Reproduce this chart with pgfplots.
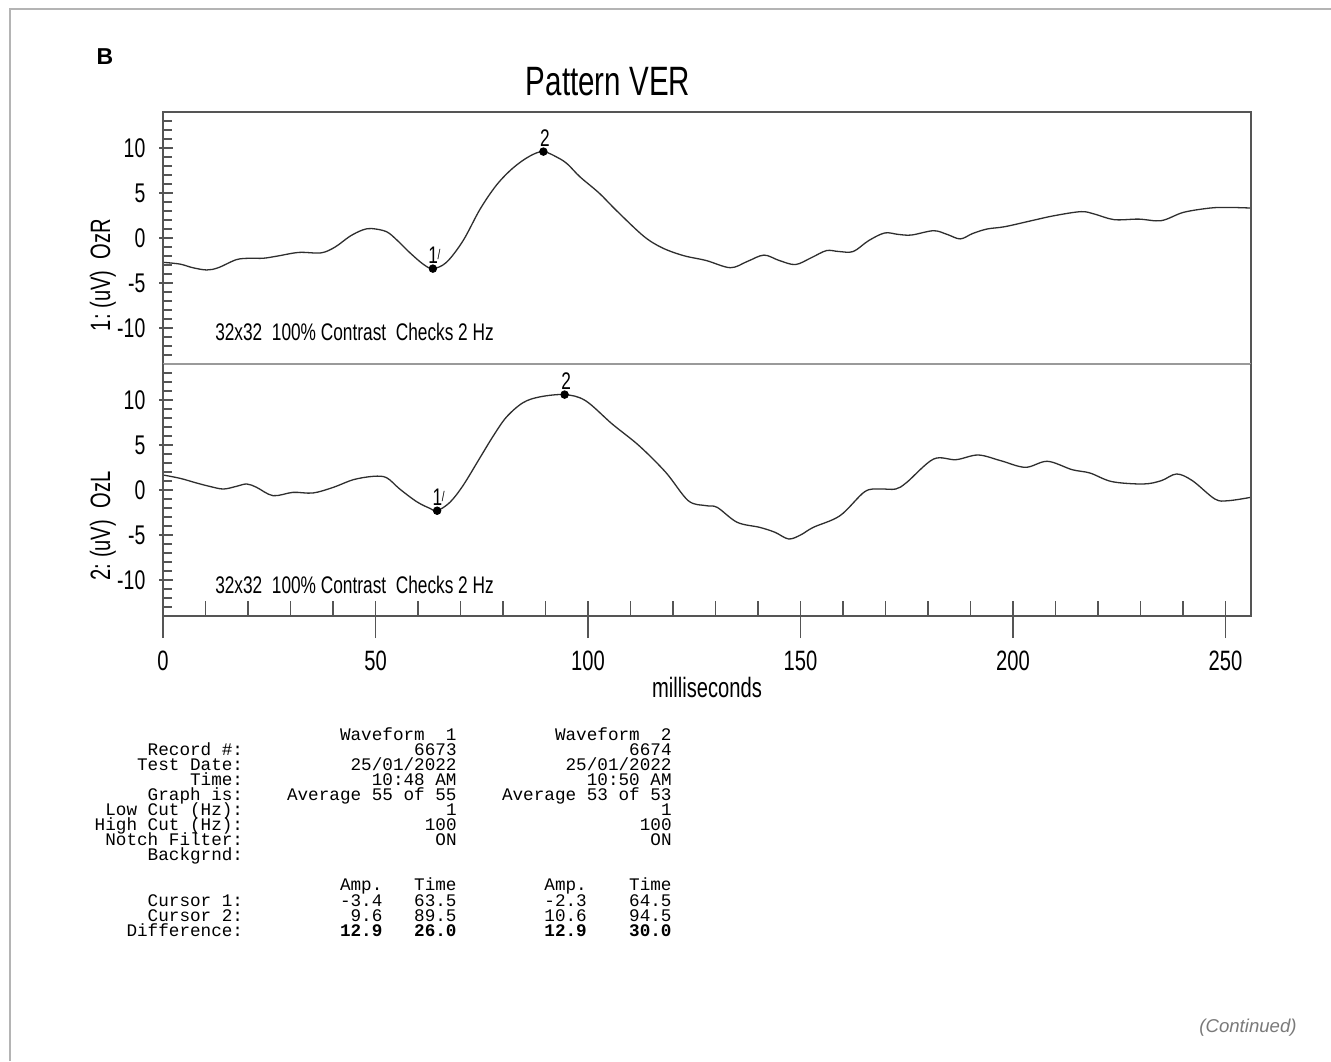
\documentclass[border=0pt]{standalone}
\usepackage{pgfplots}
\pgfplotsset{compat=1.18}
\usepackage{fontspec}
\setmainfont{Liberation Sans}
\newfontfamily\narrowsf[FakeStretch=0.72]{Liberation Sans}
\newfontfamily\tablefont{Liberation Mono}
\definecolor{framegray}{HTML}{555555}
\definecolor{sepgray}{HTML}{9A9A9A}
\definecolor{outergray}{HTML}{B4B4B4}
\definecolor{curvecol}{HTML}{2E2E2E}
\definecolor{contgray}{HTML}{7A7A7A}
\newcommand{\tf}{\tablefont\fontsize{8.83}{10}\selectfont}
\newcommand{\trow}[4]{%
  \node[anchor=base east, inner sep=0] at (121.75pt,#1) {\tf #2};
  \node[anchor=base east, inner sep=0] at (228.5pt,#1) {\tf #3};
  \node[anchor=base east, inner sep=0] at (336pt,#1) {\tf #4};}
\pgfplotsset{
  panel/.style={
    at={(81.5pt,#1)}, anchor=south west, scale only axis,
    width=544pt, height=126pt,
    xmin=0, xmax=256, ymin=-14, ymax=14,
    axis line style={draw=none}, clip=false,
    xtick=\empty,
    ytick={-10,-5,0,5,10},
    minor ytick={-13,-12,-11,-9,-8,-7,-6,-4,-3,-2,-1,1,2,3,4,6,7,8,9,11,12,13},
    ytick pos=left, tick align=center,
    major tick length=7pt, minor tick length=4.5pt,
    major tick style={xshift=1.5pt, draw=framegray, line width=0.6pt},
    minor tick style={xshift=2.25pt, draw=framegray, line width=0.6pt},
    tick label style={font=\narrowsf\fontsize{13.5}{13.5}\selectfont},
    yticklabel style={xshift=-1.8pt},
    /pgf/number format/assume math mode=true,
  },
  wave/.style={curvecol, line width=0.65pt, smooth, tension=0.55, mark=none},
  cursor/.style={only marks, mark=*, mark size=1.9pt, black},
}
\tikzset{curlab/.style={anchor=south, inner sep=0, yshift=2.2pt, xshift=0.8pt, font=\narrowsf\fontsize{12}{12}\selectfont}}
\newcommand{\one}{1\kern-0.2pt\raisebox{2.2pt}{\fontsize{7}{7}\selectfont /}}
\begin{document}
\begin{tikzpicture}
\fill[white] (0,0) rectangle (665.5pt,-530.5pt);
\draw[outergray, line width=0.8pt] (5pt,-530.5pt) -- (5pt,-4.5pt) -- (665.5pt,-4.5pt);
\node[font=\bfseries\fontsize{11.5}{11.5}\selectfont] at (52.5pt,-28.5pt) {B};
\node[anchor=base, inner sep=0, font=\narrowsf\fontsize{20.5}{20.5}\selectfont] at (304pt,-47.5pt) {Pattern VER};

% ---------- top panel ----------
\begin{axis}[panel=-182pt]
\addplot[wave] coordinates {
(0,-2.7) (4,-2.9) (7,-3.3) (10.3,-3.55) (13,-3.3) (17.3,-2.4) (20.5,-2.25) (23.6,-2.25)
(27,-2.0) (32,-1.6) (37.2,-1.65) (40.5,-1.0) (44,0.2) (47,0.9) (49.1,1.05) (52.6,0.7)
(55.2,-0.3) (58,-1.6) (61.2,-2.9) (63.5,-3.4) (66.7,-2.7) (70.6,-0.3) (74.6,3.2)
(78.5,5.9) (82.4,7.8) (86.3,9.1) (89.5,9.6) (93,8.9) (95.2,8.2) (98.1,6.8)
(102.6,5.0) (106.8,3.0) (113.1,0.2) (117.5,-1.1) (122.5,-1.96) (127.8,-2.5)
(133.5,-3.3) (137.5,-2.6) (141.4,-1.9) (145,-2.5) (148.8,-2.95) (152.5,-2.2)
(156.1,-1.4) (159,-1.5) (162.4,-1.5) (166,-0.3) (169.8,0.56) (173,0.4) (176.1,0.33)
(181.3,0.81) (184.5,0.4) (187.6,-0.1) (190.5,0.5) (193.9,1.0) (198.1,1.26)
(204.4,1.93) (209.7,2.48) (216.0,2.93) (219.1,2.67) (223.8,2.04) (229.6,2.1)
(234.9,1.93) (240.1,2.85) (246.4,3.33) (250.6,3.4) (256,3.33)
};
\addplot[cursor] coordinates {(63.5,-3.4) (89.5,9.6)};
\node[curlab] at (axis cs:63.5,-3.4) {\one};
\node[curlab] at (axis cs:89.5,9.6) {2};
\node[anchor=west, inner sep=0, font=\narrowsf\fontsize{12}{12}\selectfont] at (axis cs:12.2,-10.4) {32x32~~100\%~Contrast~~Checks~2~Hz};
\draw[framegray, line width=0.75pt] (rel axis cs:0,0) -- (rel axis cs:0,1) -- (rel axis cs:1,1) -- (rel axis cs:1,0);
\end{axis}

% ---------- bottom panel ----------
\begin{axis}[panel=-308pt]
\addplot[wave] coordinates {
(0,1.67) (4,1.3) (7.9,0.78) (11,0.4) (14.2,0.11) (17.3,0.41) (19.7,0.67) (22.0,0.3)
(25.9,-0.63) (30.6,-0.26) (35.3,-0.33) (40.1,0.3) (44.8,1.15) (49.5,1.52) (52.6,1.37)
(55.7,0.11) (59.7,-1.3) (62.8,-2.04) (64.5,-2.3) (67.5,-1.37) (70.6,0.5) (74.6,3.6)
(77.7,6.0) (80.8,8.1) (84.7,9.7) (88.7,10.35) (94.5,10.6) (99.4,9.93) (105.7,7.33)
(112.0,4.93) (118.3,1.96) (123.6,-1.19) (127.8,-1.74) (130.4,-1.93) (135.1,-3.59)
(140.4,-4.15) (144,-4.7) (147.2,-5.44) (150,-5.0) (153.0,-4.15) (159.3,-2.85)
(165.1,-0.19) (168.7,0.11) (172.4,0.11) (175.0,0.85) (181.3,3.44) (186.6,3.37)
(191.8,3.89) (197.1,3.26) (202.9,2.52) (208.1,3.19) (213.9,2.26) (218.1,1.89)
(223.3,0.93) (230.7,0.67) (234.9,1.04) (238.5,1.78) (242.2,1.04) (247.5,-1.0)
(250.6,-1.19) (256,-0.81)
};
\addplot[cursor] coordinates {(64.5,-2.3) (94.5,10.6)};
\node[curlab] at (axis cs:64.5,-2.3) {\one};
\node[curlab] at (axis cs:94.5,10.6) {2};
\node[anchor=west, inner sep=0, font=\narrowsf\fontsize{12}{12}\selectfont] at (axis cs:12.2,-10.6) {32x32~~100\%~Contrast~~Checks~2~Hz};
\draw[sepgray, line width=0.6pt] (rel axis cs:0,1) -- (rel axis cs:1,1);
\draw[framegray, line width=0.75pt] (rel axis cs:0,1) -- (rel axis cs:0,0) -- (rel axis cs:1,0) -- (rel axis cs:1,1);
\end{axis}

% ---------- x ticks of bottom panel ----------
\begin{axis}[
    at={(81.5pt,-308pt)}, anchor=south west, scale only axis,
    width=544pt, height=126pt,
    xmin=0, xmax=256, ymin=-14, ymax=14,
    axis line style={draw=none},
    ytick=\empty,
    xtick={0,50,100,150,200,250},
    minor xtick={10,20,30,40,60,70,80,90,110,120,130,140,160,170,180,190,210,220,230,240},
    xtick pos=bottom, tick align=center,
    major tick length=18.5pt, minor tick length=7.5pt,
    major tick style={yshift=-1.75pt, draw=framegray, line width=0.6pt},
    minor tick style={yshift=3.75pt, draw=framegray, line width=0.6pt},
    tick label style={font=\narrowsf\fontsize{14}{14}\selectfont},
    xticklabel style={yshift=-4.5pt},
    /pgf/number format/assume math mode=true,
]
\addplot[draw=none] coordinates {(0,0)};
\end{axis}

\node[anchor=base, inner sep=0, font=\narrowsf\fontsize{14}{14}\selectfont] at (353.5pt,-348.5pt) {milliseconds};
\node[rotate=90, inner sep=0, font=\narrowsf\fontsize{14}{14}\selectfont] at (51.5pt,-137.5pt) {1:~(uV)~~OzR};
\node[rotate=90, inner sep=0, font=\narrowsf\fontsize{14}{14}\selectfont] at (51.5pt,-263pt) {2:~(uV)~~OzL};

% ---------- text table ----------
\trow{-370pt}{}{Waveform~~1}{Waveform~~2}
\trow{-377.5pt}{Record~\#:}{6673}{6674}
\trow{-385pt}{Test~Date:}{25/01/2022}{25/01/2022}
\trow{-392.5pt}{Time:}{10:48~AM}{10:50~AM}
\trow{-400pt}{Graph~is:}{Average~55~of~55}{Average~53~of~53}
\trow{-407.5pt}{Low~Cut~(Hz):}{1}{1}
\trow{-415pt}{High~Cut~(Hz):}{100}{100}
\trow{-422.5pt}{Notch~Filter:}{ON}{ON}
\trow{-430pt}{Backgrnd:}{}{}
\trow{-445.35pt}{}{Amp.~~~Time}{Amp.~~~~Time}
\trow{-453.35pt}{Cursor~1:}{-3.4~~~63.5}{-2.3~~~~64.5}
\trow{-460.85pt}{Cursor~2:}{9.6~~~89.5}{10.6~~~~94.5}
\trow{-468.35pt}{Difference:}{\bfseries 12.9~~~26.0}{\bfseries 12.9~~~~30.0}

\node[anchor=east, inner sep=0, text=contgray, font=\itshape\fontsize{9.3}{9.3}\selectfont] at (648.5pt,-514pt) {(Continued)};

\pgfresetboundingbox
\path[use as bounding box] (0,0) rectangle (665.5pt,-530.5pt);
\end{tikzpicture}
\end{document}
